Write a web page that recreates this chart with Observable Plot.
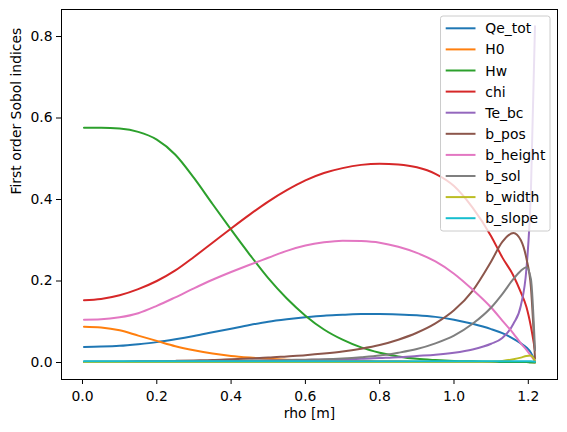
<!DOCTYPE html>
<html>
<head>
<meta charset="utf-8">
<script src="https://cdn.jsdelivr.net/npm/d3@7"></script>
<script src="https://cdn.jsdelivr.net/npm/@observablehq/plot@0.6"></script>
<style>
  html, body { margin: 0; padding: 0; background: #fff; }
  #chart { position: relative; width: 567px; height: 432px; }
</style>
</head>
<body>
<div id="chart"></div>
<script>
const rho = [0.004, 0.05, 0.1, 0.15, 0.2, 0.25, 0.3, 0.35, 0.4, 0.45, 0.5, 0.55, 0.6, 0.65, 0.7, 0.75, 0.8, 0.85, 0.9, 0.95, 1.0, 1.05, 1.1, 1.13, 1.16, 1.18, 1.195, 1.207, 1.218];

const seriesNames = ["Qe_tot", "H0", "Hw", "chi", "Te_bc", "b_pos", "b_height", "b_sol", "b_width", "b_slope"];
const seriesColors = ["#1f77b4", "#ff7f0e", "#2ca02c", "#d62728", "#9467bd", "#8c564b", "#e377c2", "#7f7f7f", "#bcbd22", "#17becf"];

const Qe_tot   = [0.038, 0.039, 0.041, 0.045, 0.050, 0.057, 0.065, 0.074, 0.083, 0.092, 0.100, 0.106, 0.111, 0.115, 0.117, 0.119, 0.119, 0.118, 0.116, 0.112, 0.105, 0.095, 0.082, 0.072, 0.058, 0.047, 0.037, 0.024, 0.003];
const H0       = [0.088, 0.086, 0.079, 0.066, 0.053, 0.040, 0.030, 0.022, 0.016, 0.012, 0.009, 0.007, 0.006, 0.005, 0.004, 0.004, 0.003, 0.003, 0.002, 0.002, 0.002, 0.002, 0.001, 0.001, 0.001, 0.001, 0.001, 0.001, 0.000];
const Hw       = [0.576, 0.576, 0.574, 0.566, 0.547, 0.510, 0.453, 0.389, 0.326, 0.265, 0.207, 0.157, 0.115, 0.081, 0.056, 0.037, 0.024, 0.015, 0.009, 0.006, 0.004, 0.003, 0.002, 0.001, 0.001, 0.001, 0.001, 0.000, 0.000];
const chi      = [0.153, 0.156, 0.165, 0.180, 0.200, 0.226, 0.259, 0.294, 0.329, 0.363, 0.395, 0.423, 0.447, 0.465, 0.477, 0.485, 0.488, 0.486, 0.479, 0.463, 0.433, 0.380, 0.310, 0.258, 0.213, 0.172, 0.136, 0.088, 0.030];
const Te_bc    = [0.001, 0.001, 0.001, 0.002, 0.002, 0.002, 0.003, 0.003, 0.004, 0.004, 0.005, 0.005, 0.006, 0.007, 0.008, 0.009, 0.011, 0.013, 0.016, 0.019, 0.024, 0.032, 0.046, 0.060, 0.095, 0.140, 0.230, 0.420, 0.825];
const b_pos    = [0.002, 0.002, 0.002, 0.003, 0.003, 0.004, 0.005, 0.006, 0.008, 0.010, 0.012, 0.015, 0.018, 0.022, 0.027, 0.034, 0.043, 0.056, 0.073, 0.096, 0.128, 0.176, 0.248, 0.296, 0.318, 0.300, 0.255, 0.185, 0.010];
const b_height = [0.105, 0.106, 0.111, 0.121, 0.139, 0.160, 0.182, 0.203, 0.222, 0.240, 0.257, 0.274, 0.287, 0.295, 0.299, 0.298, 0.294, 0.284, 0.269, 0.248, 0.218, 0.179, 0.135, 0.103, 0.071, 0.047, 0.031, 0.017, 0.004];
const b_sol    = [0.002, 0.002, 0.002, 0.002, 0.003, 0.003, 0.003, 0.004, 0.004, 0.005, 0.005, 0.006, 0.007, 0.008, 0.010, 0.013, 0.017, 0.024, 0.033, 0.047, 0.066, 0.095, 0.135, 0.168, 0.205, 0.225, 0.234, 0.205, 0.030];
const b_width  = [0.001, 0.001, 0.001, 0.001, 0.001, 0.001, 0.001, 0.001, 0.001, 0.001, 0.001, 0.001, 0.001, 0.001, 0.001, 0.001, 0.001, 0.001, 0.001, 0.001, 0.001, 0.001, 0.002, 0.004, 0.008, 0.012, 0.016, 0.017, 0.003];
const b_slope  = [0.003, 0.003, 0.003, 0.003, 0.003, 0.003, 0.003, 0.003, 0.003, 0.003, 0.003, 0.003, 0.003, 0.003, 0.003, 0.003, 0.003, 0.003, 0.003, 0.003, 0.003, 0.003, 0.003, 0.003, 0.003, 0.003, 0.003, 0.003, 0.002];

const xTicks = [0, 0.2, 0.4, 0.6, 0.8, 1.0, 1.2];
const yTicks = [0, 0.2, 0.4, 0.6, 0.8];
const xLabel = "rho [m]";
const yLabel = "First order Sobol indices";

const seriesValues = [Qe_tot, H0, Hw, chi, Te_bc, b_pos, b_height, b_sol, b_width, b_slope];
const rows = [];
seriesNames.forEach((name, i) => {
  rho.forEach((r, j) => rows.push({series: name, rho: r, value: seriesValues[i][j]}));
});

const W = 567, H = 432;
const mL = 61, mR = 10, mT = 9, mB = 53;

const chart = Plot.plot({
  width: W,
  height: H,
  marginLeft: mL,
  marginRight: mR,
  marginTop: mT,
  marginBottom: mB,
  style: {fontFamily: "DejaVu Sans", fontSize: "13.9px", color: "black", background: "white"},
  x: {domain: [-0.0565, 1.2786]},
  y: {domain: [-0.0417, 0.8663]},
  color: {domain: seriesNames, range: seriesColors},
  marks: [
    ...seriesNames.map(name => Plot.line(rows.filter(d => d.series === name), {
      x: "rho", y: "value", stroke: "series", strokeWidth: 2, curve: "monotone-x"
    })),
    Plot.frame({stroke: "black", strokeWidth: 1}),
    Plot.axisX({ticks: xTicks, tickFormat: d3.format(".1f"), tickSize: 5, tickPadding: 7, strokeWidth: 1, label: null, fontSize: 13.9}),
    Plot.axisY({ticks: yTicks, tickFormat: d3.format(".1f"), tickSize: 5, tickPadding: 4, strokeWidth: 1, label: null, fontSize: 13.9}),
    Plot.text([xLabel], {frameAnchor: "bottom", dy: 34, lineAnchor: "middle", fontSize: 13.9, fill: "black"}),
    Plot.text([yLabel], {frameAnchor: "left", dx: -45, rotate: -90, lineAnchor: "middle", fontSize: 13.9, fill: "black"})
  ]
});

document.getElementById("chart").appendChild(chart);

// Legend inside the axes (upper right), semi-transparent like matplotlib
const svg = d3.select(chart);
const lg = svg.append("g").attr("font-family", "DejaVu Sans").attr("font-size", "13.9px").attr("text-anchor", "start");
const lx = 440.5, ly = 16, lw = 109.5, lh = 215;
lg.append("rect").attr("x", lx).attr("y", ly).attr("width", lw).attr("height", lh)
  .attr("rx", 2.5).attr("fill", "white").attr("fill-opacity", 0.8)
  .attr("stroke", "#cccccc").attr("stroke-width", 1);
seriesNames.forEach((name, i) => {
  const yy = 28.3 + 21.1 * i;
  lg.append("line").attr("x1", 445.7).attr("x2", 475.5).attr("y1", yy).attr("y2", yy)
    .attr("stroke", seriesColors[i]).attr("stroke-width", 2);
  lg.append("text").attr("x", 485.3).attr("y", yy).attr("dy", "0.36em")
    .attr("text-anchor", "start").attr("fill", "black").text(name);
});
</script>
</body>
</html>
